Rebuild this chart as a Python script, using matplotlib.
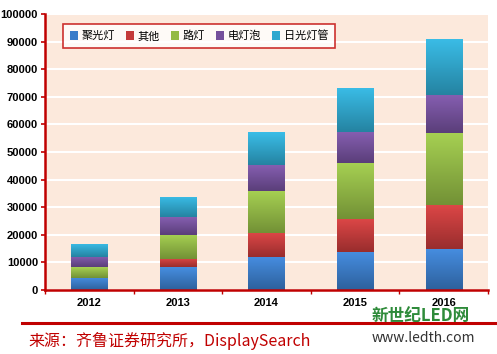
import matplotlib.pyplot as plt
import matplotlib.colors as mcolors
import numpy as np

plt.rcParams['font.family'] = ['Noto Sans CJK SC', 'DejaVu Sans']

years = ["2012", "2013", "2014", "2015", "2016"]
series_names = ["聚光灯", "其他", "路灯", "电灯泡", "日光灯管"]
spot = [4500, 8300, 12000, 13900, 14900]
other = [0, 2900, 8600, 11800, 15900]
street = [3800, 8700, 15300, 20300, 26100]
bulb = [3700, 6500, 9400, 11200, 13600]
tube = [4800, 7300, 11900, 16000, 20400]
series = [spot, other, street, bulb, tube]
colors = ["#3A7CC9", "#C43A3A", "#93BA45", "#74509C", "#2FA8CF"]

fig = plt.figure(figsize=(4.97, 3.54), dpi=100)
ax = fig.add_axes([45 / 497, 64 / 354, 443 / 497, 276 / 354])
ax.set_facecolor("#FCE9DC")

x = np.arange(len(years))
bottom = np.zeros(len(years))
handles = []
for name, vals, c in zip(series_names, series, colors):
    bars = ax.bar(x, vals, 0.41, bottom=bottom, color=c, label=name, zorder=2)
    handles.append(bars)
    # vertical shading: darker at the bottom of each segment
    base = np.array(mcolors.to_rgb(c))
    light = np.clip(base * 1.08 + 0.03, 0, 1)
    dark = base * 0.78
    grad = np.linspace(0, 1, 64)[:, None, None]
    img = dark * (1 - grad) + light * grad
    for rect in bars:
        if rect.get_height() <= 0:
            continue
        x0, y0 = rect.get_x(), rect.get_y()
        im = ax.imshow(img, extent=[x0, x0 + rect.get_width(), y0, y0 + rect.get_height()],
                       origin="lower", aspect="auto", zorder=2.5)
        im.set_clip_path(rect)
    bottom += np.array(vals)

num_font = ["Liberation Sans", "DejaVu Sans"]
ax.set_xlim(-0.5, 4.5)
ax.set_ylim(0, 100000)
ax.set_yticks(range(0, 100001, 10000))
ax.tick_params(axis="y", labelsize=8, color="#C00000", length=3, width=1.2, pad=2)
for lab in ax.get_yticklabels():
    lab.set_fontweight("bold")
    lab.set_family(num_font)
ax.set_xticks(x)
ax.set_xticklabels(years, fontsize=8, fontweight="bold", family=num_font)
ax.tick_params(axis="x", length=0, pad=6)
ax.set_xticks(np.arange(-0.5, 5, 1), minor=True)
ax.tick_params(axis="x", which="minor", length=3, color="#C00000", width=1)
ax.grid(axis="y", color="white", linewidth=1.5, zorder=1)
ax.set_axisbelow(True)
for s in ["top", "right"]:
    ax.spines[s].set_visible(False)
for s in ["left", "bottom"]:
    ax.spines[s].set_color("#C00000")
    ax.spines[s].set_linewidth(1.8)

leg = ax.legend(handles=handles, labels=series_names, ncol=5, loc="upper left",
                bbox_to_anchor=(0.0406, 0.9638), borderaxespad=0,
                prop={"family": "Noto Sans CJK SC", "size": 8},
                frameon=True, fancybox=False, handlelength=0.75, handleheight=0.75,
                handletextpad=0.3, columnspacing=1.0, borderpad=0.6, edgecolor="#C00000")
leg.get_frame().set_linewidth(1.2)
leg.get_frame().set_facecolor("white")

fig.add_artist(plt.Line2D([22 / 497, 1], [1 - 323 / 354] * 2, color="#C00000", linewidth=2.2))
fig.text(28 / 497, 1 - 341 / 354, "来源：齐鲁证券研究所，DisplaySearch", color="#C00000",
         fontsize=11.5, va="center", ha="left")
fig.text(372 / 497, 1 - 316 / 354, "新世纪LED网", color="#2E8B3A", fontsize=12,
         fontweight="bold", va="center", ha="left")
fig.text(372 / 497, 1 - 338 / 354, "www.ledth.com", color="#333333", fontsize=10,
         va="center", ha="left")

fig.savefig("out.png", dpi=100)
